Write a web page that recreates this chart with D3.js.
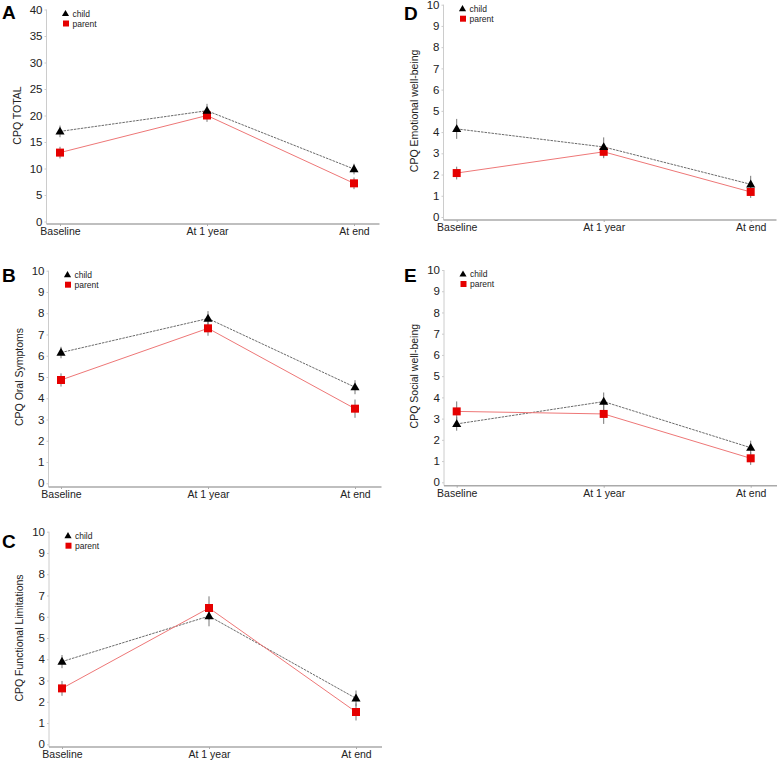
<!DOCTYPE html>
<html lang="en">
<head>
    <meta charset="UTF-8">
    <title>CPQ scores, child vs parent</title>
    <script src="https://d3js.org/d3.v7.min.js"></script>
    <style>
        body {
            margin: 0;
            background: #fff;
            font-family: Arial, "Liberation Sans", sans-serif;
        }
        .tick text {
            fill: #222;
        }
        .child-line {
            fill: none;
            stroke: #444;
            stroke-width: 0.8px;
            stroke-dasharray: 2.5 1;
        }
        .parent-line {
            fill: none;
            stroke: #e77;
            stroke-width: 1px;
        }
        .err {
            stroke: #777;
            stroke-width: 1px;
        }
    </style>
</head>
<body>
    <div id="chart"></div>
    <script>
        const timepoints = ['Baseline', 'At 1 year', 'At end'];

        // A - total
        const totalChild = [17.0, 20.9, 9.9];
        const totalChildErr = [1.1, 1.3, 1.0];
        const totalParent = [13.0, 20.0, 7.2];
        const totalParentErr = [1.1, 1.2, 1.1];

        // B - oral symptoms
        const oralChild = [6.15, 7.75, 4.52];
        const oralChildErr = [0.27, 0.35, 0.33];
        const oralParent = [4.86, 7.29, 3.51];
        const oralParentErr = [0.31, 0.35, 0.43];

        // C - functional limitations
        const funcChild = [3.89, 6.03, 2.16];
        const funcChildErr = [0.31, 0.48, 0.37];
        const funcParent = [2.63, 6.41, 1.52];
        const funcParentErr = [0.35, 0.55, 0.4];

        // D - emotional well-being
        const emoChild = [4.15, 3.3, 1.54];
        const emoChildErr = [0.47, 0.45, 0.4];
        const emoParent = [2.07, 3.07, 1.18];
        const emoParentErr = [0.3, 0.3, 0.28];

        // E - social well-being
        const socChild = [2.75, 3.8, 1.63];
        const socChildErr = [0.32, 0.43, 0.33];
        const socParent = [3.34, 3.22, 1.13];
        const socParentErr = [0.47, 0.47, 0.31];

        const legendLabels = ['child', 'parent'];

        const panels = [
            { letter: 'A', title: 'CPQ TOTAL', max: 40, step: 5, child: totalChild, childErr: totalChildErr, parent: totalParent, parentErr: totalParentErr,
              ax: 46.5, top: 9.5, bottom: 221.5, x0: 60, baseY: 224, letterY: 19 },
            { letter: 'B', title: 'CPQ Oral Symptoms', max: 10, step: 1, child: oralChild, childErr: oralChildErr, parent: oralParent, parentErr: oralParentErr,
              ax: 48.5, top: 270.7, bottom: 483.3, x0: 61, baseY: 487, letterY: 282 },
            { letter: 'C', title: 'CPQ Functional Limitations', max: 10, step: 1, child: funcChild, childErr: funcChildErr, parent: funcParent, parentErr: funcParentErr,
              ax: 49, top: 531.7, bottom: 744.3, x0: 62, baseY: 747, letterY: 548 },
            { letter: 'D', title: 'CPQ Emotional well-being', max: 10, step: 1, child: emoChild, childErr: emoChildErr, parent: emoParent, parentErr: emoParentErr,
              ax: 443.5, top: 4.7, bottom: 217, x0: 456.7, baseY: 220, letterY: 20 },
            { letter: 'E', title: 'CPQ Social well-being', max: 10, step: 1, child: socChild, childErr: socChildErr, parent: socParent, parentErr: socParentErr,
              ax: 444, top: 270, bottom: 482.3, x0: 456.7, baseY: 485.7, letterY: 282 }
        ];

        const svg = d3.select('#chart')
            .append('svg')
            .attr('width', 778)
            .attr('height', 763);

        const triangle = d3.symbol().type(d3.symbolTriangle);
        const square = d3.symbol().type(d3.symbolSquare);

        panels.forEach(p => {
            const g = svg.append('g');

            const x = d3.scalePoint().domain(timepoints).range([p.x0, p.x0 + 294]);
            const y = d3.scaleLinear().domain([0, p.max]).range([p.bottom, p.top]);

            // axis lines
            g.append('line')
                .attr('x1', p.ax).attr('x2', p.ax)
                .attr('y1', p.top).attr('y2', p.baseY)
                .attr('stroke', '#ccc').attr('stroke-width', 1);
            g.append('line')
                .attr('x1', p.ax).attr('x2', p.ax + 333)
                .attr('y1', p.baseY).attr('y2', p.baseY)
                .attr('stroke', '#aaa').attr('stroke-width', 1.5);

            const yAxis = g.append('g')
                .attr('transform', `translate(${p.ax},0)`)
                .call(d3.axisLeft(y).tickValues(d3.range(0, p.max + 1, p.step)).tickSize(2).tickPadding(2));
            yAxis.select('.domain').remove();
            yAxis.selectAll('.tick line').attr('stroke', '#ccc');
            yAxis.selectAll('.tick text').style('font-size', '11.5px').style('font-family', 'Arial, sans-serif');

            const xAxis = g.append('g')
                .attr('transform', `translate(0,${p.baseY})`)
                .call(d3.axisBottom(x).tickSize(2).tickPadding(2));
            xAxis.select('.domain').remove();
            xAxis.selectAll('.tick line').attr('stroke', '#aaa');
            xAxis.selectAll('.tick text').style('font-size', '10.5px').style('font-family', 'Arial, sans-serif');

            // y title
            g.append('text')
                .attr('transform', `translate(${p.ax - 26},${(p.top + p.bottom) / 2}) rotate(-90)`)
                .attr('text-anchor', 'middle')
                .style('font-size', '10.5px')
                .attr('fill', '#222')
                .text(p.title);

            // panel letter
            g.append('text')
                .attr('x', p.ax < 100 ? 2 : 404)
                .attr('y', p.letterY)
                .style('font-size', '19px')
                .style('font-weight', 'bold')
                .text(p.letter);

            const line = d3.line()
                .x((d, i) => x(timepoints[i]))
                .y(d => y(d));

            g.append('path').datum(p.child).attr('class', 'child-line').attr('d', line);
            g.append('path').datum(p.parent).attr('class', 'parent-line').attr('d', line);

            // error bars
            [[p.child, p.childErr], [p.parent, p.parentErr]].forEach(([vals, errs]) => {
                g.selectAll(null)
                    .data(vals)
                    .enter().append('line')
                    .attr('class', 'err')
                    .attr('x1', (d, i) => x(timepoints[i]))
                    .attr('x2', (d, i) => x(timepoints[i]))
                    .attr('y1', (d, i) => y(d - errs[i]))
                    .attr('y2', (d, i) => y(d + errs[i]));
            });

            g.selectAll(null)
                .data(p.parent)
                .enter().append('path')
                .attr('d', square.size(64)())
                .attr('transform', (d, i) => `translate(${x(timepoints[i])},${y(d)})`)
                .attr('fill', '#e50000');

            g.selectAll(null)
                .data(p.child)
                .enter().append('path')
                .attr('d', triangle.size(36)())
                .attr('transform', (d, i) => `translate(${x(timepoints[i])},${y(d) + 0.5})`)
                .attr('fill', '#000');

            // legend
            const lg = g.append('g').attr('transform', `translate(${p.ax + 19},${p.top + 4})`);
            lg.append('path').attr('d', triangle.size(22)()).attr('transform', 'translate(0,0.5)').attr('fill', '#000');
            lg.append('path').attr('d', square.size(36)()).attr('transform', 'translate(0.5,10)').attr('fill', '#e50000');
            lg.selectAll('text')
                .data(legendLabels)
                .enter().append('text')
                .attr('x', 7)
                .attr('y', (d, i) => i * 10 + 3)
                .style('font-size', '8.5px')
                .attr('fill', '#222')
                .text(d => d);
        });
    </script>
</body>
</html>
